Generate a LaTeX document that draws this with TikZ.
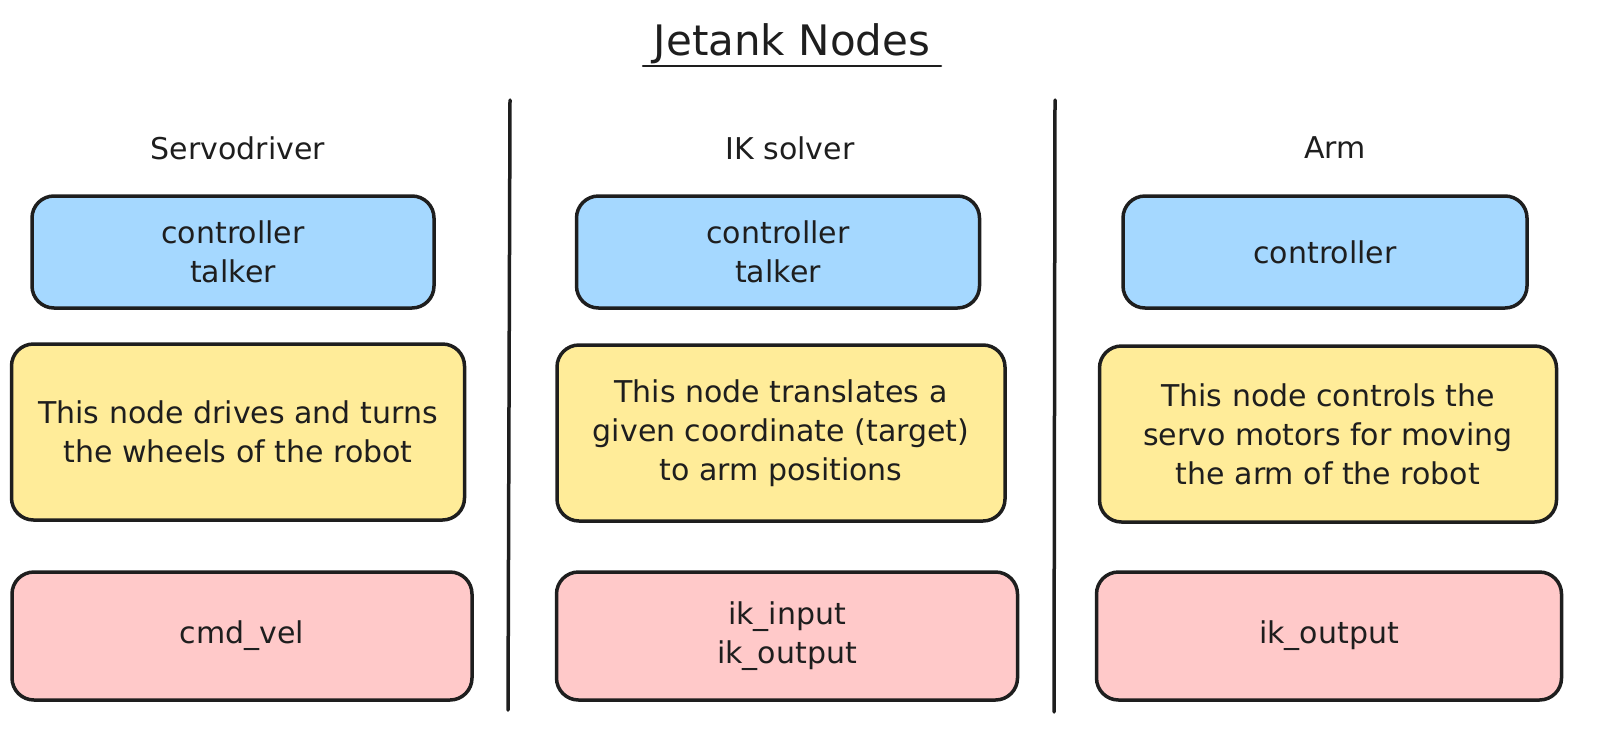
\documentclass[tikz,border=0pt]{standalone}
\usepackage{xcolor}
\usepackage{fontspec}
\setmainfont{DejaVu Sans}
\usepackage{tikz}
\usetikzlibrary{positioning}

\definecolor{ink}{HTML}{1E1E1E}
\definecolor{skyblue}{HTML}{A5D8FF}
\definecolor{sand}{HTML}{FFEC99}
\definecolor{rose}{HTML}{FFC9C9}

\begin{document}
\begin{tikzpicture}
  [
    x=1pt, y=-1pt,
    Box/.style={rectangle, rounded corners=22pt, draw=ink, line width=3.5pt, align=center, text=ink, font=\fontsize{30}{39}\selectfont, inner sep=0pt},
    Blue/.style={Box, fill=skyblue, minimum height=112pt},
    Yellow/.style={Box, fill=sand, minimum height=176pt},
    Red/.style={Box, fill=rose, minimum height=128pt},
    Head/.style={text=ink, font=\fontsize{30}{34}\selectfont},
    Rule/.style={draw=ink, line width=3.5pt, line cap=round}
  ]
  \useasboundingbox (0, 0) rectangle (1621, 737);

  % Title
  \node[text=ink, font=\fontsize{42}{46}\selectfont] (title) at(792, 44) {Jetank Nodes};
  \coordinate (ulL) at(643, 66);
  \coordinate (ulR) at(941, 66);

  % Headers
  \node[Head] (hServo) at(238, 148) {Servodriver};
  \node[Head] (hIK) at(790, 148) {IK solver};
  \node[Head] (hArm) at(1335, 148) {Arm};

  % Nodes
  \node[Blue, minimum width=402pt] (cServo) at(233, 252) {controller\\talker};
  \node[Blue, minimum width=403pt] (cIK) at(778, 252) {controller\\talker};
  \node[Blue, minimum width=404pt] (cArm) at(1325, 252) {controller};

  \node[Yellow, minimum width=453pt] (dServo) at(238, 432) {This node drives and turns\\the wheels of the robot};
  \node[Yellow, minimum width=448pt] (dIK) at(781, 433) {This node translates a\\given coordinate (target)\\to arm positions};
  \node[Yellow, minimum width=457pt] (dArm) at(1328, 434) {This node controls the\\servo motors for moving\\the arm of the robot};

  \node[Red, minimum width=460pt] (tServo) at(242, 636) {cmd\_vel};
  \node[Red, minimum width=461pt] (tIK) at(787, 636) {ik\_input\\ik\_output};
  \node[Red, minimum width=465pt] (tArm) at(1329, 636) {ik\_output};

  % Separators
  \coordinate (s1top) at(510, 100);
  \coordinate (s1bot) at(508, 710);
  \coordinate (s2top) at(1055, 100);
  \coordinate (s2bot) at(1054, 712);

  % Lines
  \path [Rule, line width=2.5pt] (ulL) -- (ulR);
  \path [Rule] (s1top) -- (s1bot);
  \path [Rule] (s2top) -- (s2bot);

\end{tikzpicture}
\end{document}
